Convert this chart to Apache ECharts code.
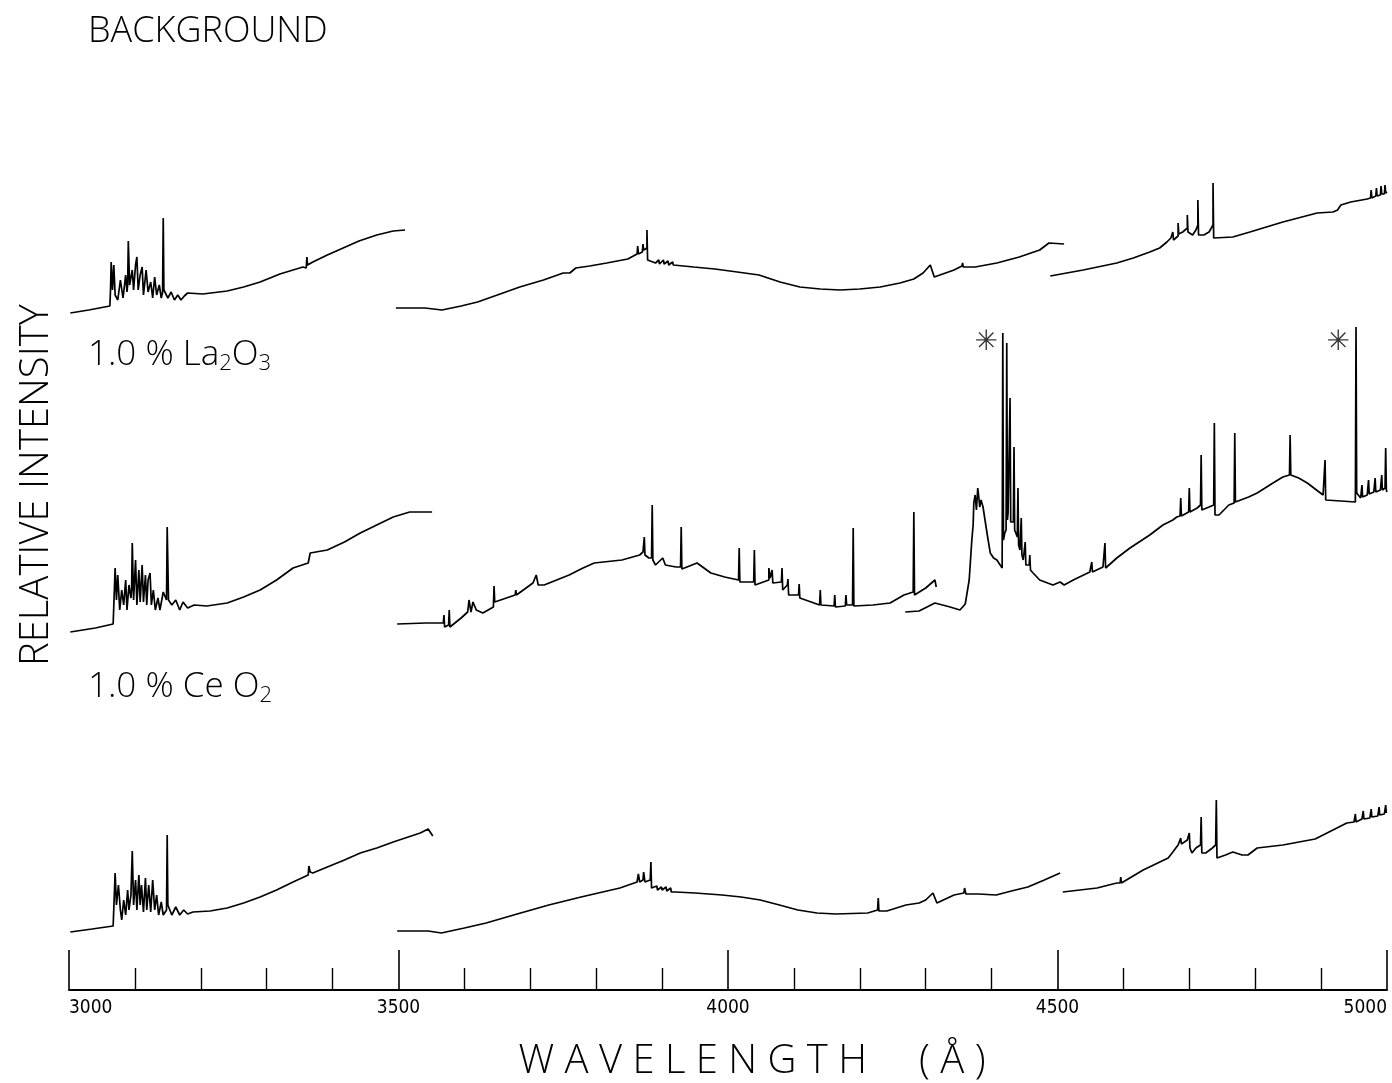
<!DOCTYPE html>
<html>
<head>
<meta charset="utf-8">
<script src="https://cdn.jsdelivr.net/npm/echarts@6/dist/echarts.min.js"></script>
<style>html,body{margin:0;padding:0;background:#fff}#c{width:1392px;height:1083px}</style>
</head>
<body>
<div id="c"></div>
<script>
// Wavelength axis
const wlMin = 3000, wlMax = 5000, wlMajor = 500, wlMinorSplit = 5;
const tickLabels = ['3000', '3500', '4000', '4500', '5000'];

// Panel labels
const panelLabels = ['BACKGROUND', '1.0 % La2O3', '1.0 % CeO2'];
const xTitle = 'W A V E L E N G T H     ( Å )';
const yTitle = 'RELATIVE INTENSITY';

// Background spectrum: [wavelength Å, relative intensity], three scan segments
const bgSeg1 = [[3002,7],[3030,10],[3062,14],[3063,30],[3064,58],[3066,30],[3068,55],[3070,25],[3074,20],[3078,40],[3082,22],[3086,45],[3088,28],[3089,35],[3090,79],[3092,35],[3096,50],[3098,30],[3101,55],[3103,63],[3105,30],[3108,45],[3111,53],[3113,25],[3117,50],[3120,28],[3124,38],[3127,22],[3130,43],[3133,25],[3137,35],[3140,22],[3142,28],[3143,102],[3144,30],[3150,22],[3155,28],[3160,20],[3165,25],[3170,20],[3175,24],[3180,27],[3203,26],[3240,29],[3265,33],[3290,38],[3320,46],[3355,53],[3360,52],[3361,63],[3362,55],[3370,58],[3392,65],[3416,72],[3440,79],[3467,85],[3492,89],[3510,90]];
const bgSeg2 = [[3496,12],[3540,12],[3566,10],[3595,14],[3620,18],[3650,25],[3684,33],[3720,40],[3750,47],[3760,47],[3769,52],[3790,54],[3816,57],[3848,61],[3862,66],[3863,74],[3864,66],[3870,68],[3871,76],[3872,70],[3877,72],[3877,90],[3878,60],[3890,57],[3895,60],[3896,56],[3902,60],[3903,56],[3909,59],[3910,55],[3916,58],[3917,55],[3948,53],[3980,51],[4014,48],[4047,45],[4079,38],[4109,33],[4140,31],[4170,30],[4200,31],[4231,33],[4261,37],[4282,41],[4296,47],[4307,55],[4313,43],[4343,50],[4355,54],[4356,57],[4357,53],[4375,53],[4408,57],[4442,63],[4473,70],[4487,77],[4510,76]];
const bgSeg3 = [[4489,44],[4539,50],[4590,57],[4615,62],[4640,68],[4655,72],[4666,78],[4672,82],[4675,80],[4675,88],[4676,80],[4683,84],[4683,97],[4684,86],[4690,88],[4697,92],[4697,105],[4698,88],[4705,85],[4710,90],[4713,95],[4713,120],[4714,85],[4722,85],[4730,88],[4736,95],[4736,137],[4737,82],[4766,83],[4792,88],[4842,98],[4894,107],[4918,108],[4925,110],[4930,115],[4945,118],[4970,121],[4975,122],[4976,130],[4977,122],[4983,124],[4984,132],[4985,124],[4990,125],[4991,134],[4992,126],[4996,126],[4997,135],[4998,127],[5000,128]];

// 1.0 % La2O3 spectrum
const laSeg1 = [[3002,8],[3040,12],[3067,16],[3069,16],[3070,72],[3072,40],[3074,65],[3077,30],[3080,50],[3083,35],[3086,60],[3088,30],[3091,55],[3094,42],[3095,50],[3096,97],[3098,40],[3101,80],[3103,35],[3106,70],[3108,38],[3111,75],[3113,38],[3116,65],[3118,35],[3120,60],[3123,67],[3125,35],[3128,50],[3131,30],[3135,42],[3138,30],[3143,48],[3148,40],[3149,113],[3151,40],[3156,35],[3162,40],[3168,30],[3173,38],[3180,32],[3190,35],[3209,34],[3240,37],[3265,43],[3290,50],[3315,60],[3340,72],[3363,77],[3366,87],[3392,90],[3418,98],[3442,107],[3467,115],[3492,123],[3517,128],[3551,128]];
const laSeg2 = [[3498,16],[3542,17],[3563,17],[3568,17],[3569,25],[3570,13],[3576,15],[3577,30],[3578,13],[3595,22],[3605,28],[3607,40],[3610,28],[3613,38],[3618,30],[3628,27],[3644,33],[3645,54],[3646,38],[3649,37],[3677,45],[3678,50],[3679,45],[3704,57],[3709,65],[3712,55],[3721,55],[3740,60],[3759,65],[3780,72],[3797,77],[3800,78],[3839,80],[3866,85],[3871,88],[3872,86],[3873,103],[3874,85],[3880,82],[3884,82],[3885,135],[3886,80],[3890,75],[3901,82],[3905,75],[3921,73],[3928,73],[3929,113],[3930,71],[3953,77],[3974,67],[3995,63],[4016,60],[4017,92],[4018,58],[4039,58],[4040,90],[4041,55],[4062,60],[4062,72],[4064,62],[4067,70],[4068,57],[4081,58],[4082,72],[4083,50],[4090,55],[4091,61],[4092,45],[4107,45],[4108,56],[4109,42],[4139,35],[4140,50],[4141,35],[4161,34],[4162,45],[4163,33],[4178,34],[4179,45],[4180,35],[4189,35],[4190,112],[4191,34],[4220,35],[4246,37],[4267,45],[4281,48],[4282,128],[4283,45],[4300,52],[4314,60],[4316,53]];
const laSeg3 = [[4269,28],[4290,29],[4314,37],[4337,33],[4352,30],[4360,36],[4366,60],[4370,100],[4372,115],[4373,137],[4375,145],[4377,130],[4379,152],[4381,140],[4382,133],[4384,140],[4387,133],[4393,107],[4398,87],[4403,82],[4408,80],[4412,76],[4416,72],[4417,307],[4418,100],[4420,107],[4422,110],[4423,297],[4424,120],[4425,127],[4427,125],[4428,242],[4429,118],[4432,120],[4433,118],[4434,193],[4435,110],[4439,103],[4440,152],[4441,95],[4443,90],[4444,92],[4445,122],[4446,85],[4448,80],[4450,82],[4451,98],[4452,75],[4455,73],[4457,75],[4458,85],[4459,70],[4463,67],[4473,60],[4493,55],[4504,58],[4510,55],[4524,60],[4549,68],[4551,68],[4552,78],[4553,68],[4569,73],[4571,72],[4572,97],[4573,72],[4590,82],[4610,92],[4640,105],[4660,115],[4675,120],[4681,123],[4686,124],[4687,142],[4688,124],[4699,128],[4700,152],[4701,128],[4712,132],[4717,135],[4718,185],[4719,130],[4730,133],[4737,135],[4738,217],[4739,125],[4745,125],[4760,135],[4768,137],[4769,207],[4770,138],[4790,143],[4803,147],[4827,157],[4842,163],[4852,165],[4853,205],[4854,165],[4866,162],[4879,157],[4903,145],[4905,145],[4906,180],[4907,140],[4930,139],[4952,138],[4953,313],[4954,147],[4960,142],[4961,142],[4962,155],[4963,143],[4970,145],[4971,145],[4972,160],[4973,146],[4980,148],[4981,148],[4982,162],[4983,148],[4990,150],[4991,150],[4992,165],[4993,150],[4997,152],[4998,192],[4999,150],[5000,148]];

// 1.0 % CeO2 spectrum
const ceSeg1 = [[3002,8],[3035,11],[3067,14],[3070,67],[3072,35],[3075,55],[3078,30],[3080,20],[3083,40],[3086,25],[3089,50],[3091,30],[3094,45],[3095,45],[3096,89],[3098,35],[3101,60],[3103,30],[3106,65],[3108,35],[3110,55],[3113,28],[3116,62],[3118,30],[3121,55],[3124,28],[3127,60],[3130,30],[3133,45],[3136,25],[3140,38],[3143,25],[3148,30],[3149,105],[3150,35],[3156,25],[3162,33],[3168,25],[3174,30],[3180,26],[3188,28],[3214,29],[3240,32],[3265,37],[3290,43],[3315,50],[3340,58],[3363,65],[3364,74],[3366,68],[3370,67],[3392,73],[3418,80],[3442,87],[3467,92],[3492,98],[3533,107],[3545,111],[3552,104]];
const ceSeg2 = [[3498,9],[3545,9],[3565,7],[3600,12],[3633,17],[3680,26],[3728,35],[3777,43],[3836,52],[3862,58],[3864,66],[3866,58],[3871,60],[3872,68],[3874,58],[3882,60],[3883,78],[3884,52],[3892,54],[3893,50],[3899,53],[3900,50],[3906,53],[3907,49],[3913,52],[3914,48],[3920,48],[3950,47],[3991,45],[4020,43],[4049,40],[4078,35],[4106,30],[4135,27],[4164,26],[4212,27],[4227,30],[4228,42],[4229,29],[4241,29],[4270,35],[4290,37],[4300,40],[4311,47],[4317,37],[4343,45],[4358,47],[4359,52],[4361,46],[4380,46],[4407,45],[4430,49],[4455,53],[4480,60],[4504,67]];
const ceSeg3 = [[4508,48],[4560,52],[4590,57],[4595,57],[4596,63],[4597,57],[4630,70],[4668,82],[4675,88],[4683,95],[4686,96],[4687,102],[4688,96],[4697,100],[4699,100],[4700,107],[4701,92],[4704,87],[4710,92],[4717,95],[4718,123],[4719,87],[4725,87],[4735,92],[4740,95],[4741,140],[4742,82],[4755,85],[4766,88],[4780,85],[4789,85],[4803,92],[4842,95],[4891,101],[4909,107],[4939,117],[4950,118],[4951,118],[4952,126],[4953,118],[4962,121],[4963,121],[4964,129],[4965,121],[4974,122],[4975,122],[4976,131],[4977,123],[4986,124],[4987,124],[4988,133],[4989,125],[4996,126],[4997,126],[4998,135],[4999,127],[5000,127]];

// Peaks marked with an asterisk in the La2O3 trace
const markedPeaks = [4392, 4926];

const chart = echarts.init(document.getElementById('c'), null, {renderer: 'canvas'});
const FONT = "'Open Sans', 'Liberation Sans', sans-serif";
const ink = '#000';

const panels = [
  {segs: [bgSeg1, bgSeg2, bgSeg3], top: 20, height: 300, max: 300, width: 1.7},
  {segs: [laSeg1, laSeg2, laSeg3], top: 310, height: 330, max: 330, width: 1.7},
  {segs: [ceSeg1, ceSeg2, ceSeg3], top: 640, height: 300, max: 300, width: 1.7}
];

const grids = panels.map(p => ({left: 69, width: 1318, top: p.top, height: p.height, containLabel: false, outerBoundsMode: 'none'}));
const xAxes = panels.map((p, i) => {
  const visible = i === 2;
  return {
    type: 'value', gridIndex: i, min: wlMin, max: wlMax, interval: wlMajor,
    show: visible,
    offset: visible ? 50 : 0,
    position: 'bottom',
    axisLine: {show: visible, onZero: false, lineStyle: {color: ink, width: 2}},
    axisTick: {show: visible, inside: true, length: 40, lineStyle: {color: ink, width: 1.6}},
    minorTick: {show: visible, splitNumber: wlMinorSplit, length: 22, lineStyle: {color: ink, width: 1.4}},
    splitLine: {show: false},
    axisLabel: {show: visible, margin: 9, fontSize: 19, color: ink, fontFamily: "'Liberation Sans Narrow', 'DejaVu Sans Condensed', sans-serif",
      alignMinLabel: 'left', alignMaxLabel: 'right',
      formatter: v => tickLabels[Math.round((v - wlMin) / wlMajor)] || ''},
    name: visible ? xTitle : '',
    nameLocation: 'middle', nameGap: 52,
    nameTextStyle: {fontSize: 40, color: ink, fontFamily: FONT, fontWeight: 300, padding: [0, 0, 0, 48]}
  };
});
const yAxes = panels.map((p, i) => ({type: 'value', gridIndex: i, min: 0, max: p.max, show: false}));

const series = [];
panels.forEach((p, i) => {
  p.segs.forEach(seg => {
    series.push({
      type: 'line', xAxisIndex: i, yAxisIndex: i, data: seg,
      showSymbol: false, symbol: 'none', smooth: false,
      lineStyle: {color: ink, width: p.width}, silent: true, animation: false
    });
  });
});
// asterisk markers on La panel
series.push({
  type: 'scatter', xAxisIndex: 1, yAxisIndex: 1, data: markedPeaks.map(w => [w, 297]),
  symbolSize: 0, silent: true, animation: false,
  label: {show: true, formatter: '✳', fontSize: 28, color: ink, position: 'inside', fontFamily: "'DejaVu Sans', sans-serif"}
});

const subRich = {
  a: {fontSize: 35, fontFamily: FONT, fontWeight: 300, color: ink},
  s: {fontSize: 22, fontFamily: FONT, fontWeight: 300, color: ink, padding: [16, 0, 0, 0]}
};

chart.setOption({
  animation: false,
  backgroundColor: '#fff',
  grid: grids, xAxis: xAxes, yAxis: yAxes, series,
  graphic: [
    {type: 'text', left: 88, top: 14, style: {text: panelLabels[0], fontSize: 36, fontFamily: FONT, fontWeight: 300, fill: ink}},
    {type: 'text', left: 88, top: 338, style: {text: '{a|1.0 % La}{s|2}{a|O}{s|3}', rich: subRich}},
    {type: 'text', left: 88, top: 670, style: {text: '{a|1.0 % Ce O}{s|2}', rich: subRich}},
    {type: 'text', x: 17, y: 666, rotation: Math.PI / 2, style: {text: yTitle, fontSize: 40, fontFamily: FONT, fontWeight: 300, fill: ink, textVerticalAlign: 'top'}}
  ]
});
</script>
</body>
</html>
